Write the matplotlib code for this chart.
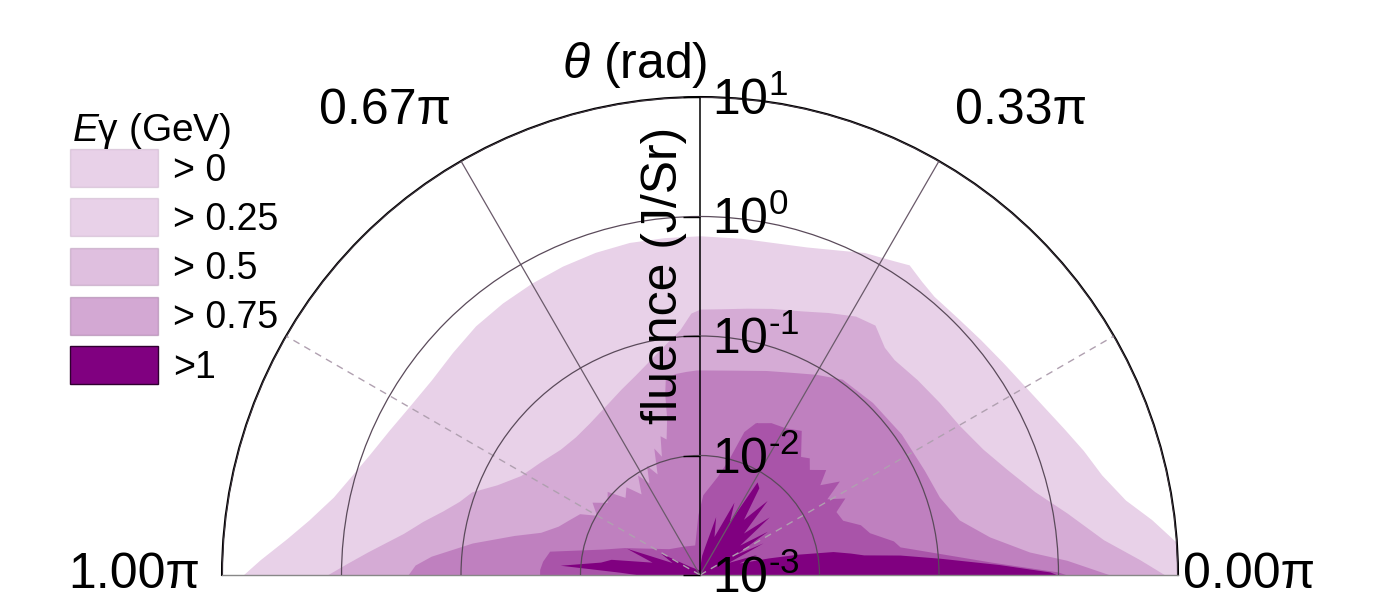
import numpy as np
import matplotlib.pyplot as plt
from matplotlib.patches import Patch

plt.rcParams['font.family'] = ['Liberation Sans', 'DejaVu Sans']
plt.rcParams['mathtext.fontset'] = 'custom'
plt.rcParams['mathtext.rm'] = 'Liberation Sans'
plt.rcParams['mathtext.it'] = 'Liberation Sans:italic'

# emission angle (deg) and fluence (J/Sr) for each photon energy cut
ang_e0 = [0, 2, 4, 7, 10, 14, 18, 22, 26, 30, 35, 40, 45, 50, 53, 56, 59, 63, 67, 72, 77, 83,
          90, 96, 102, 108, 114, 120, 126, 132, 138, 144, 150, 155, 160, 164, 168, 172, 175, 178, 180]
flu_e0 = [10.0, 10.0, 9.8, 6.42, 4.12, 2.91, 2.36, 1.91, 1.60, 1.40, 1.25, 1.16, 1.11, 1.11, 1.20, 1.35, 1.20, 1.07, 0.90, 0.77, 0.71, 0.69,
          0.69, 0.69, 0.70, 0.69, 0.675, 0.66, 0.65, 0.64, 0.61, 0.60, 0.65, 0.74, 0.88, 1.07, 1.37, 2.02, 2.97, 4.81, 6.67]

ang_e025 = [0, 2, 5, 9.6, 14, 19, 24, 30, 36, 42, 48, 51, 55, 59, 64, 69, 75, 80, 86, 90,
            92, 94.7, 98, 103, 108, 113, 119, 126, 132, 138, 145, 151, 156, 160, 163, 166, 169, 172, 176, 178, 180]
flu_e025 = [7.78, 4.81, 2.45, 1.30, 0.77, 0.52, 0.39, 0.32, 0.294, 0.278, 0.267, 0.283, 0.357, 0.337, 0.278, 0.233, 0.204, 0.185, 0.171, 0.168,
            0.156, 0.1145, 0.0926, 0.0707, 0.0572, 0.049, 0.042, 0.0374, 0.036, 0.0374, 0.0437, 0.052, 0.072, 0.108, 0.128, 0.165, 0.229, 0.32, 0.61, 0.88, 1.32]

ang_e05 = [0, 0.5, 2.3, 4, 7.5, 12, 18, 25, 35, 45, 54, 60, 66, 72, 80, 90,
           91, 94, 97, 100, 101, 102, 104, 106, 108, 110, 113, 116, 119, 122, 126, 130, 134,
           138, 142, 146, 150, 153, 157, 161, 165, 168, 172, 176, 178, 180]
flu_e05 = [2.70, 2.22, 1.18, 0.58, 0.278, 0.165, 0.128, 0.118, 0.114, 0.110, 0.106, 0.087, 0.072, 0.063, 0.055, 0.052,
           0.052, 0.051, 0.050, 0.047, 0.0353, 0.022, 0.0149, 0.0163, 0.0111, 0.0135, 0.0083, 0.0105, 0.0076, 0.0097, 0.0069, 0.0092, 0.0080,
           0.0111, 0.0097, 0.0123, 0.010, 0.0135, 0.0154, 0.018, 0.024, 0.039, 0.084, 0.18, 0.243, 0.278]

ang_e075 = [0, 0.5, 2.5, 8, 10, 14, 17.4, 21, 25, 28, 31, 34, 37, 40, 44, 47, 49.7, 55, 60, 65, 70, 73, 76, 80, 88, 92,
            100, 120, 140, 156, 160, 165, 171, 175, 178, 180]
flu_e075 = [1.18, 0.98, 0.28, 0.049, 0.044, 0.029, 0.0255, 0.019, 0.018, 0.0236, 0.0173, 0.0255, 0.018, 0.0236, 0.0187, 0.0219, 0.020, 0.030, 0.0265, 0.0255, 0.0227, 0.018, 0.0101, 0.0069, 0.0047, 0.0032,
            0.0018, 0.0019, 0.0022, 0.0036, 0.0047, 0.0069, 0.0188, 0.021, 0.022, 0.022]

ang_e1 = [0, 0.5, 2, 4, 5.7, 7, 8.3, 10, 12, 14, 17, 20, 24, 27, 30, 33, 37, 40, 44, 48, 52, 56, 58.5,
          61, 65, 70, 75, 80, 85, 90, 95, 140, 151, 156, 160, 165, 170, 172.6, 176, 178, 180]
flu_e1 = [0.98, 0.85, 0.32, 0.103, 0.048, 0.024, 0.0187, 0.0135, 0.0069, 0.0039, 0.0022, 0.0032, 0.0018, 0.0039, 0.0022, 0.0047, 0.0026, 0.0057, 0.0032, 0.0069, 0.0039, 0.0076, 0.0082,
          0.0032, 0.0047, 0.0022, 0.0032, 0.0018, 0.00147, 0.0012, 0.0011, 0.0013, 0.0024, 0.0018, 0.0045, 0.0026, 0.0057, 0.0069, 0.0149, 0.0047, 0.0032]

series = [(ang_e0, flu_e0, '> 0', 0.18),
          (ang_e025, flu_e025, '> 0.25', 0.18),
          (ang_e05, flu_e05, '> 0.5', 0.25),
          (ang_e075, flu_e075, '> 0.75', 0.34),
          (ang_e1, flu_e1, '>1', 1.0)]
purple = '#800080'

fig = plt.figure(figsize=(13.82, 6.03), dpi=100)
# square box; the half-disc wedge gets centred inside it
ax = fig.add_axes([222 / 1382, (603 - 814) / 603, 956 / 1382, 956 / 603], projection='polar')
ax.set_thetamin(0)
ax.set_thetamax(180)
ax.set_rscale('log')
ax.set_rlim(1e-3, 10)

for ang, flu, lab, a in series:
    ax.fill_between(np.radians(ang), 1e-3, flu, color=purple, alpha=a, lw=0, zorder=1)

# grid: rings per decade, spokes every 30 deg
ax.set_rticks([1e-3, 1e-2, 1e-1, 1, 10])
ax.set_yticklabels([])
ax.tick_params(axis='y', length=0)
ax.set_thetagrids([30, 60, 90, 120, 150], labels=[''] * 5)
ax.tick_params(axis='x', direction='in', length=8, width=1, color='#333333')
ax.set_axisbelow(False)
ax.yaxis.grid(True, color='#5a4a5a', lw=0.9, ls='-')
gl = ax.xaxis.get_gridlines()
for i, line in enumerate(gl):
    if i in (0, 4):
        line.set(color='#b0a0b0', lw=1.0, ls=(0, (5, 4)))
    elif i == 2:
        line.set(color='black', lw=1.1, ls='-')
    else:
        line.set(color='#6a5a6a', lw=0.9, ls='-')
ax.spines['polar'].set(color='black', lw=1.5)
ax.spines['start'].set(color='#888888', lw=1.0)
ax.spines['end'].set(color='#888888', lw=1.0)
ax.spines['inner'].set_visible(False)

# small ticks along the vertical fluence axis
decades = [1e-3, 1e-2, 1e-1, 1, 10]
ax.plot(np.full(len(decades), np.pi / 2), decades, ls='none', marker=0, ms=12,
        mew=1.0, color='black', clip_on=False, zorder=5)

for k, d in zip(range(-3, 2), decades):
    exp = str(k).replace('-', '\u2010')
    ax.annotate(r'$\mathregular{10^{%s}}$' % exp, xy=(np.pi / 2, d), xytext=(12, -18),
                textcoords='offset pixels', ha='left', va='baseline', fontsize=36, zorder=6)

# angle labels
for lab, deg, off, ha in [('0.00π', 0, (5, 0), 'left'), ('0.33π', 60, (82, 50), 'center'),
                          ('0.67π', 120, (-76, 50), 'center'), ('1.00π', 180, (-22, 0), 'right')]:
    ax.annotate(lab, xy=(np.radians(deg), 10), xytext=off, textcoords='offset pixels',
                ha=ha, va='center', fontsize=36, annotation_clip=False)

ax.annotate(r'$\theta$ (rad)', xy=(np.pi / 2, 10), xytext=(-65, 32), textcoords='offset pixels',
            ha='center', va='center', fontsize=36, annotation_clip=False)
ax.annotate('fluence (J/Sr)', xy=(np.pi / 2, 10 ** -0.49), xytext=(-36, 0), textcoords='offset pixels',
            ha='center', va='center', rotation=90, fontsize=36, zorder=6)

handles = [Patch(facecolor=purple, alpha=a, edgecolor='#7a4a7a' if a < 1 else '#300030', lw=1.0)
           for _, _, _, a in series]
labels = [lab for _, _, lab, _ in series]
fig.text(72 / 1382, 1 - 141 / 603, r'$\mathit{E}$γ (GeV)', fontsize=28, ha='left', va='baseline')
fig.legend(handles, labels, loc='upper left', bbox_to_anchor=(70 / 1382, 1 - 149 / 603),
           frameon=False, fontsize=27,
           handlelength=2.35, handleheight=1.17, labelspacing=0.26, handletextpad=0.4,
           borderpad=0, borderaxespad=0)

fig.savefig('out.png', dpi=100)
